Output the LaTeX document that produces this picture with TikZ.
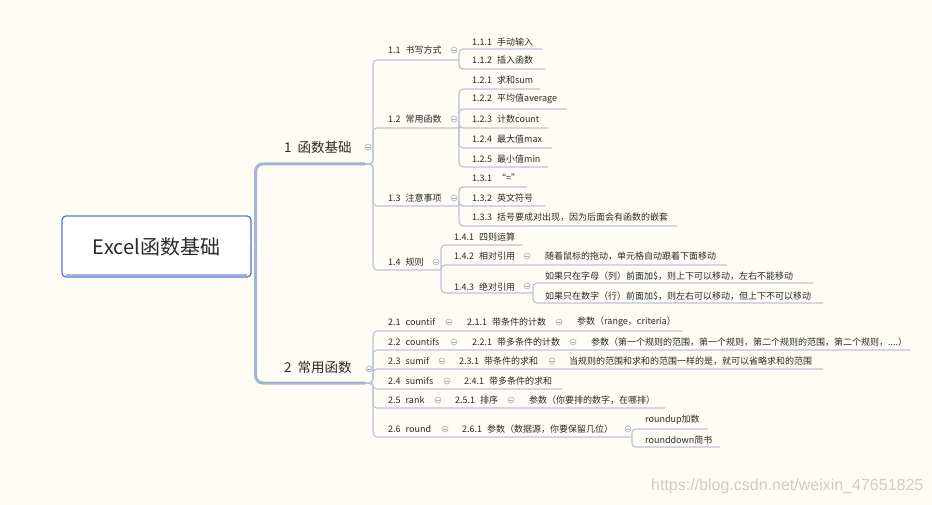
\documentclass[tikz,border=0pt]{standalone}
\usepackage{fontspec}
\setmainfont{Noto Sans CJK SC}
\newfontfamily\markfont{Liberation Sans}
\definecolor{ink}{HTML}{2A2A2A}
\definecolor{branch}{HTML}{A4B6CF}
\definecolor{twig}{HTML}{B9C6D8}
\definecolor{rootblue}{HTML}{5577C0}
\definecolor{foldgray}{HTML}{A9B1C0}
\definecolor{paper}{HTML}{FFFCF5}
\newcommand\numgap{\hspace{5bp}}

\begin{document}
\begin{tikzpicture}[x=1bp,y=-1bp,every node/.style={text=ink,inner sep=0pt},
  topic/.style={anchor=west,font=\fontsize{9bp}{11bp}\selectfont},
  major/.style={anchor=west,font=\fontsize{13.5bp}{16bp}\selectfont},
  foldmark/.style={circle,draw=foldgray,line width=.6bp,minimum size=6bp,fill=paper,
    path picture={\draw[foldgray,line width=.6bp] ([xshift=1.4bp]path picture bounding box.west) -- ([xshift=-1.4bp]path picture bounding box.east);}},
  trunk/.style={branch,line width=3bp,rounded corners=7bp},
  link/.style={twig,line width=1.2bp,rounded corners=4bp}]
\fill[paper] (0,0) rectangle (932,505);
\useasboundingbox (0,0) rectangle (932,505);

\node[draw=rootblue,line width=1.3bp,rounded corners=4bp,fill=white,minimum width=189bp,minimum height=61bp,font=\fontsize{20bp}{24bp}\selectfont] (root) at (156.5,246.5) {Excel函数基础};
\draw[branch,line width=2.5bp] ([xshift=5bp,yshift=2.4bp]root.south west) -- ([xshift=-5bp,yshift=2.4bp]root.south east);

\coordinate (u1) at (365,164);
\coordinate (u2) at (365,383);
\coordinate (u11) at (459,60);
\coordinate (u12) at (459,128);
\coordinate (u13) at (459,206);
\coordinate (u14) at (441,270);
\coordinate (u111) at (542,49);
\coordinate (u112) at (545,69);
\coordinate (u121) at (540,89);
\coordinate (u122) at (567,109);
\coordinate (u123) at (548,128);
\coordinate (u124) at (552,148);
\coordinate (u125) at (548,167);
\coordinate (u131) at (527,187);
\coordinate (u132) at (545,206);
\coordinate (u133) at (677,226);
\coordinate (u141) at (523,245);
\coordinate (u142) at (727,265);
\coordinate (u143) at (533,293);
\coordinate (u1431) at (813,283);
\coordinate (u1432) at (823,303);
\coordinate (u21) at (683,331);
\coordinate (u22) at (910,350);
\coordinate (u23) at (823,369);
\coordinate (u24) at (562,389);
\coordinate (u25) at (665,408);
\coordinate (u26) at (632,437);
\coordinate (u261) at (708,429);
\coordinate (u262) at (720,447);

\draw[trunk] ([xshift=4bp]root.east) |- (u1);
\draw[trunk] ([xshift=4bp]root.east) |- (u2);
\foreach \k in {11,12,13,14} \draw[link] (u1) -- ++(8,0) |- (u\k);
\foreach \k in {21,22,23,24,25,26} \draw[link] (u2) -- ++(8,0) |- (u\k);
\foreach \k in {111,112} \draw[link] (u11) |- (u\k);
\foreach \k in {121,122,123,124,125} \draw[link] (u12) |- (u\k);
\foreach \k in {131,132,133} \draw[link] (u13) |- (u\k);
\foreach \k in {141,142,143} \draw[link] (u14) |- (u\k);
\foreach \k in {1431,1432} \draw[link] (u143) |- (u\k);
\foreach \k in {261,262} \draw[link] (u26) |- (u\k);

\node[major] (t1) at (284,147) {1\hspace{6bp}函数基础};
\node[major] (t2) at (284,367) {2\hspace{6bp}常用函数};

\node[topic] (t11) at (388,50) {1.1\numgap 书写方式};
\node[topic] (t12) at (388,119) {1.2\numgap 常用函数};
\node[topic] (t13) at (388,198) {1.3\numgap 注意事项};
\node[topic] (t14) at (388,262) {1.4\numgap 规则};

\node[topic] (t111) at (472,42) {1.1.1\numgap 手动输入};
\node[topic] (t112) at (472,60) {1.1.2\numgap 插入函数};
\node[topic] (t121) at (472,80) {1.2.1\numgap 求和sum};
\node[topic] (t122) at (472,99) {1.2.2\numgap 平均值average};
\node[topic] (t123) at (472,119) {1.2.3\numgap 计数count};
\node[topic] (t124) at (472,139) {1.2.4\numgap 最大值max};
\node[topic] (t125) at (472,159) {1.2.5\numgap 最小值min};
\node[topic] (t131) at (472,178) {1.3.1\numgap “=”};
\node[topic] (t132) at (472,198) {1.3.2\numgap 英文符号};
\node[topic] (t133) at (472,217) {1.3.3\numgap 括号要成对出现，因为后面会有函数的嵌套};
\node[topic] (t141) at (454,237) {1.4.1\numgap 四则运算};
\node[topic] (t142) at (454,256) {1.4.2\numgap 相对引用};
\node[topic] (t1421) at (545,256) {随着鼠标的拖动，单元格自动跟着下面移动};
\node[topic] (t143) at (454,287) {1.4.3\numgap 绝对引用};
\node[topic] (t1431) at (545,276) {如果只在字母（列）前面加\$，则上下可以移动，左右不能移动};
\node[topic] (t1432) at (545,296) {如果只在数字（行）前面加\$，则左右可以移动，但上下不可以移动};

\node[topic] (t21) at (388,322) {2.1\numgap countif};
\node[topic] (t211) at (467,322) {2.1.1\numgap 带条件的计数};
\node[topic] (t2111) at (577,322) {参数（range，criteria）};
\node[topic] (t22) at (388,342) {2.2\numgap countifs};
\node[topic] (t221) at (472,342) {2.2.1\numgap 带多条件的计数};
\node[topic] (t2211) at (591,342) {参数（第一个规则的范围，第一个规则，第二个规则的范围，第二个规则，....）};
\node[topic] (t23) at (388,361) {2.3\numgap sumif};
\node[topic] (t231) at (459,361) {2.3.1\numgap 带条件的求和};
\node[topic] (t2311) at (569,361) {当规则的范围和求和的范围一样的是，就可以省略求和的范围};
\node[topic] (t24) at (388,381) {2.4\numgap sumifs};
\node[topic] (t241) at (464,381) {2.4.1\numgap 带多条件的求和};
\node[topic] (t25) at (388,400) {2.5\numgap rank};
\node[topic] (t251) at (455,400) {2.5.1\numgap 排序};
\node[topic] (t2511) at (529,400) {参数（你要排的数字，在哪排）};
\node[topic] (t26) at (388,429) {2.6\numgap round};
\node[topic] (t261) at (462,429) {2.6.1\numgap 参数（数据源，你要保留几位）};
\node[topic] (t2611) at (645,420) {roundup加数};
\node[topic] (t2612) at (645,440) {rounddown简书};

\node[foldmark] (f1) at (368,147) {};
\node[foldmark] (f2) at (369,369) {};
\node[foldmark] (f11) at (454,50) {};
\node[foldmark] (f12) at (454,119) {};
\node[foldmark] (f13) at (454,198) {};
\node[foldmark] (f14) at (436,262) {};
\node[foldmark] (f142) at (527,256) {};
\node[foldmark] (f143) at (527,286) {};
\node[foldmark] (f21) at (449,322) {};
\node[foldmark] (f211) at (559,322) {};
\node[foldmark] (f22) at (454,342) {};
\node[foldmark] (f221) at (573,342) {};
\node[foldmark] (f23) at (442,361) {};
\node[foldmark] (f231) at (552,361) {};
\node[foldmark] (f24) at (447,381) {};
\node[foldmark] (f25) at (438,400) {};
\node[foldmark] (f251) at (511,400) {};
\node[foldmark] (f26) at (445,429) {};
\node[foldmark] (f261) at (628,429) {};

\node[anchor=west,text=black!20,font=\markfont\fontsize{16bp}{19bp}\selectfont] (mark) at (651,486) {https://blog.csdn.net/weixin\_47651825};
\end{tikzpicture}
\end{document}
